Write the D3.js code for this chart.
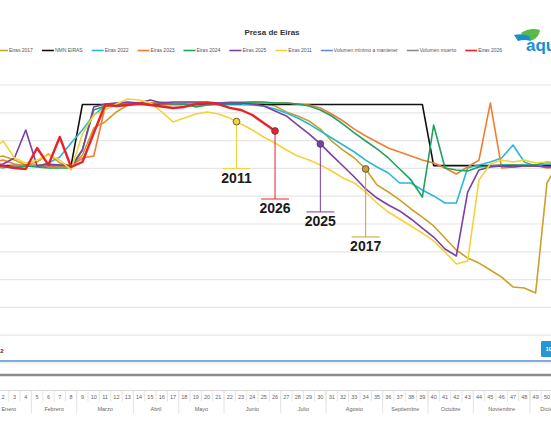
<!DOCTYPE html>
<html>
<head>
<meta charset="utf-8">
<script src="https://cdn.jsdelivr.net/npm/d3@7"></script>
<style>
body { margin: 0; background: #fff; overflow: hidden; }
svg { display: block; font-family: "Liberation Sans", Arial, sans-serif; }
</style>
</head>
<body>
<div id="chart"></div>
<script>
// Presa de Eiras - volumen semanal (hm3)

const weeks = d3.range(1, 53);
const month_names = ["Enero", "Febrero", "Marzo", "Abril", "Mayo", "Junio", "Julio",
    "Agosto", "Septiembre", "Octubre", "Noviembre", "Diciembre"];
const month_weeks = [4, 4, 5, 4, 4, 5, 4, 5, 4, 4, 5, 4];
const y_ticks = [2, 4, 6, 8, 10, 12, 14, 16, 18, 20, 22];

const eiras_2017 = [16.75, 16.89, 16.60, 16.25, 16.46, 17.04, 16.39, 16.17, 16.96, 18.91, 19.34, 20.06, 20.56,
    20.71, 20.71, 20.78, 20.71, 20.63, 20.63, 20.63, 20.71, 20.71, 20.71, 20.71, 20.63, 20.49, 20.06, 19.77,
    19.41, 18.83, 17.97, 17.32, 16.75, 15.96, 14.81, 14.30, 13.73, 13.08, 12.50, 11.86, 10.99, 10.13, 9.55,
    9.19, 8.69, 8.18, 7.47, 7.40, 7.04, 14.95, 16.39, 16.25];
const nmn_eiras = [16.2, 16.2, 16.2, 16.2, 16.2, 16.2, 16.2, 16.2, 20.6, 20.6, 20.6, 20.6, 20.6, 20.6, 20.6,
    20.6, 20.6, 20.6, 20.6, 20.6, 20.6, 20.6, 20.6, 20.6, 20.6, 20.6, 20.6, 20.6, 20.6, 20.6, 20.6, 20.6, 20.6,
    20.6, 20.6, 20.6, 20.6, 20.6, 20.6, 16.2, 16.2, 16.2, 16.2, 16.2, 16.2, 16.2, 16.2, 16.2, 16.2, 16.2, 16.2, 16.2];
const eiras_2022 = [16.17, 16.03, 16.25, 16.17, 16.17, 16.39, 16.82, 17.83, 18.76, 19.84, 20.49, 20.63, 20.71,
    20.71, 20.63, 20.71, 20.63, 20.63, 20.49, 20.56, 20.63, 20.63, 20.63, 20.56, 20.49, 20.27, 19.99, 19.63,
    19.19, 18.69, 18.19, 17.68, 17.18, 16.60, 16.10, 15.67, 14.95, 14.95, 14.45, 14.02, 13.51, 13.51, 16.03,
    16.25, 16.46, 16.75, 17.68, 16.46, 16.17, 16.32, 16.25, 16.25];
const eiras_2023 = [16.46, 16.60, 16.32, 16.17, 16.25, 16.17, 16.17, 16.17, 16.75, 16.89, 20.42, 20.71, 20.63,
    20.63, 20.71, 20.63, 20.63, 20.71, 20.71, 20.71, 20.71, 20.78, 20.78, 20.78, 20.71, 20.71, 20.71, 20.63,
    20.56, 20.35, 19.91, 19.41, 18.83, 18.33, 17.90, 17.47, 17.18, 16.89, 16.60, 16.39, 16.03, 15.60, 16.10,
    16.60, 20.71, 16.03, 16.10, 16.17, 16.25, 16.03, 16.10, 16.17];
const eiras_2024 = [16.10, 16.17, 16.03, 16.17, 16.10, 16.03, 16.03, 16.03, 17.32, 20.20, 20.49, 20.63, 20.63,
    20.63, 20.63, 20.71, 20.63, 20.63, 20.42, 20.56, 20.71, 20.71, 20.71, 20.78, 20.78, 20.71, 20.71, 20.63,
    20.49, 20.20, 19.77, 19.19, 18.55, 17.97, 17.40, 16.75, 15.96, 15.17, 13.94, 19.12, 16.03, 15.89, 15.81,
    16.10, 16.17, 16.25, 16.25, 16.25, 16.25, 16.46, 16.32, 16.25];
const eiras_2025 = [16.25, 16.32, 16.75, 18.76, 16.17, 16.32, 16.25, 16.17, 17.32, 20.42, 20.63, 20.71, 20.78,
    20.71, 20.92, 20.71, 20.78, 20.78, 20.78, 20.78, 20.71, 20.71, 20.71, 20.63, 20.49, 20.13, 19.77, 19.12,
    18.48, 17.76, 16.96, 16.17, 15.38, 14.52, 13.87, 13.37, 12.94, 12.36, 11.71, 11.06, 10.20, 9.70, 14.30,
    15.89, 16.10, 16.17, 16.10, 16.17, 16.17, 16.10, 16.17, 16.17];
const eiras_2011 = [17.32, 17.97, 16.75, 16.39, 16.60, 16.96, 16.60, 15.89, 18.48, 19.84, 20.20, 20.63, 20.99,
    20.92, 20.71, 20.06, 19.34, 19.63, 19.91, 20.06, 19.91, 19.63, 19.19, 18.76, 18.26, 17.83, 17.32, 16.89,
    16.60, 16.25, 15.81, 15.31, 14.95, 14.30, 13.51, 12.86, 12.36, 11.86, 11.35, 10.78, 9.99, 9.12, 9.34,
    15.17, 16.32, 16.60, 16.46, 16.60, 16.39, 16.46, 16.46, 16.46];
const vol_minimo = weeks.map(() => 2.14);
const vol_muerto = weeks.map(() => 1.14);
const eiras_2026 = [16.32, 16.17, 16.03, 15.96, 17.47, 16.25, 18.26, 16.10, 16.46, 18.55, 20.56, 20.49, 20.56,
    20.67, 20.56, 20.45, 20.35, 20.42, 20.63, 20.71, 20.63, 20.35, 20.20, 19.84, 19.27, 18.69];

const series_names = ["Eiras 2017", "NMN EIRAS", "Eiras 2022", "Eiras 2023", "Eiras 2024", "Eiras 2025",
    "Eiras 2011", "Volumen mínimo a mantener", "Volumen muerto", "Eiras 2026"];
const series_values = [eiras_2017, nmn_eiras, eiras_2022, eiras_2023, eiras_2024, eiras_2025,
    eiras_2011, vol_minimo, vol_muerto, eiras_2026];
const series_colors = ["#c9a12c", "#111111", "#2bb7d6", "#f07d32", "#1fa35c", "#7b3fa6",
    "#f3d33c", "#5b8fd2", "#8c8c8c", "#e8222a"];
const series_widths = [1.6, 1.6, 1.6, 1.6, 1.6, 1.6, 1.6, 1.6, 2.4, 2.4];

// callouts: which series, at which week, label text
const callout_series = ["Eiras 2011", "Eiras 2026", "Eiras 2025", "Eiras 2017"];
const callout_weeks = [22.6, 26, 30, 34];
const callout_labels = ["2011", "2026", "2025", "2017"];

class EirasChart {
    constructor(w, h, container) {
        this.w = w;
        this.h = h;
        this.container = container;
        this.series = series_names.map((n, i) => ({
            name: n, values: series_values[i], color: series_colors[i], width: series_widths[i]
        }));
        this.xScale = d3.scalePoint().domain(weeks).range([-13.9, 575.3]).padding(0.5);
        this.yScale = d3.scaleLinear().domain([0, 22]).range([390.8, 85]);

        this.setup_svg();
        this.draw_grid();
        this.draw_lines();
        this.draw_labels();
        this.draw_callouts();
        this.draw_x_axis();
        this.draw_legend();
        this.draw_logo();
    }

    setup_svg() {
        this.svg = this.container.append("svg")
            .attr("width", this.w)
            .attr("height", this.h);
        this.svg.append("text")
            .attr("x", 272)
            .attr("y", 35)
            .attr("text-anchor", "middle")
            .style("font-size", "8px")
            .style("font-weight", "bold")
            .style("fill", "#333")
            .text("Presa de Eiras");
    }

    x_at(week) {
        let step = this.xScale.step();
        return this.xScale(1) + (week - 1) * step;
    }

    draw_grid() {
        let yScale = this.yScale;
        this.svg.append("g")
            .selectAll("line")
            .data(y_ticks)
            .enter()
            .append("line")
            .attr("x1", -14)
            .attr("x2", this.w)
            .attr("y1", d => yScale(d))
            .attr("y2", d => yScale(d))
            .attr("stroke", "#e6e6e6")
            .attr("stroke-width", 1.2);
    }

    draw_lines() {
        let xScale = this.xScale;
        let yScale = this.yScale;
        let line = d3.line()
            .defined(d => d != null)
            .x((d, i) => xScale(weeks[i]))
            .y(d => yScale(d));
        this.svg.append("g")
            .selectAll("path")
            .data(this.series)
            .enter()
            .append("path")
            .attr("d", d => line(d.values))
            .attr("fill", "none")
            .attr("stroke", d => d.color)
            .attr("stroke-width", d => d.width)
            .attr("stroke-linejoin", "round");
    }

    draw_labels() {
        // data labels sitting on the "volumen minimo" line
        let y = this.yScale(vol_minimo[0]);
        let g = this.svg.append("g");
        let bx = this.xScale(50) - 6;
        g.append("rect")
            .attr("x", bx)
            .attr("y", y - 20)
            .attr("width", 30)
            .attr("height", 16)
            .attr("rx", 1.5)
            .attr("fill", "#2596d6");
        g.append("text")
            .attr("x", bx + 4.5)
            .attr("y", y - 10)
            .style("font-size", "6px")
            .style("font-weight", "bold")
            .style("fill", "#fff")
            .text("10,00");
        g.append("text")
            .attr("x", this.xScale(1) + 11.7)
            .attr("y", y - 8)
            .attr("text-anchor", "end")
            .style("font-size", "6px")
            .style("font-weight", "bold")
            .style("fill", "#333")
            .text("2,2");
    }

    draw_callouts() {
        let yScale = this.yScale;
        let self = this;
        let data = callout_labels.map((lab, i) => {
            let s = this.series.find(d => d.name === callout_series[i]);
            let wk = callout_weeks[i];
            let i0 = Math.floor(wk) - 1;
            let t = wk - Math.floor(wk);
            let v = t > 0 ? s.values[i0] * (1 - t) + s.values[i0 + 1] * t : s.values[i0];
            return { label: lab, x: self.x_at(wk), y: yScale(v), color: s.color, drop: i === 0 ? 47 : 68 };
        });
        let g = this.svg.append("g")
            .selectAll("g")
            .data(data)
            .enter()
            .append("g");
        g.append("line")
            .attr("x1", d => d.x).attr("x2", d => d.x)
            .attr("y1", d => d.y).attr("y2", d => d.y + d.drop)
            .attr("stroke", d => d.color)
            .attr("stroke-width", 1);
        g.append("line")
            .attr("x1", d => d.x - 14).attr("x2", d => d.x + 14)
            .attr("y1", d => d.y + d.drop).attr("y2", d => d.y + d.drop)
            .attr("stroke", d => d.color)
            .attr("stroke-width", 1);
        g.append("circle")
            .attr("cx", d => d.x)
            .attr("cy", d => d.y)
            .attr("r", 3.4)
            .attr("fill", d => d.color)
            .attr("stroke", "#444")
            .attr("stroke-width", 0.8);
        g.append("text")
            .attr("x", d => d.x)
            .attr("y", d => d.y + d.drop + 14)
            .attr("text-anchor", "middle")
            .style("font-size", "14px")
            .style("font-weight", "bold")
            .style("fill", "#1a1a1a")
            .text(d => d.label);
    }

    draw_x_axis() {
        let xScale = this.xScale;
        let step = xScale.step();
        let top = 390.5;
        let g = this.svg.append("g").style("fill", "#666");

        g.append("line")
            .attr("x1", -14).attr("x2", this.w)
            .attr("y1", top).attr("y2", top)
            .attr("stroke", "#d8d8d8");

        g.selectAll(".wk_tick")
            .data(weeks)
            .enter()
            .append("line")
            .attr("x1", d => xScale(d) - step / 2)
            .attr("x2", d => xScale(d) - step / 2)
            .attr("y1", top).attr("y2", top + 11)
            .attr("stroke", "#e4e4e4");

        g.selectAll(".wk_label")
            .data(weeks)
            .enter()
            .append("text")
            .attr("x", d => xScale(d))
            .attr("y", top + 8)
            .attr("text-anchor", "middle")
            .style("font-size", "5.5px")
            .text(d => d);

        let start = 1;
        let months = month_names.map((m, i) => {
            let o = { name: m, first: start, last: start + month_weeks[i] - 1 };
            start += month_weeks[i];
            return o;
        });

        g.selectAll(".mo_tick")
            .data(months)
            .enter()
            .append("line")
            .attr("x1", d => xScale(d.first) - step / 2)
            .attr("x2", d => xScale(d.first) - step / 2)
            .attr("y1", top).attr("y2", top + 23)
            .attr("stroke", "#e4e4e4");

        g.selectAll(".mo_label")
            .data(months)
            .enter()
            .append("text")
            .attr("x", d => (xScale(d.first) + xScale(d.last)) / 2)
            .attr("y", top + 20.5)
            .attr("text-anchor", "middle")
            .style("font-size", "5.5px")
            .text(d => d.name);
    }

    draw_legend() {
        let g = this.svg.append("g").attr("transform", "translate(0,50.5)");
        let x = -4;
        this.series.forEach(s => {
            let item = g.append("g").attr("transform", "translate(" + x + ",0)");
            item.append("line")
                .attr("x1", 0).attr("x2", 12)
                .attr("stroke", s.color)
                .attr("stroke-width", 1.6);
            let t = item.append("text")
                .attr("x", 13)
                .attr("y", 1.8)
                .style("font-size", "5px")
                .style("fill", "#555")
                .text(s.name);
            x += 13 + t.node().getComputedTextLength() + 9;
        });
    }

    draw_logo() {
        let g = this.svg.append("g");
        g.append("path")
            .attr("d", "M521,33 Q530,27 540,30 Q539,37 533,40 Q527,41 524,38 Z")
            .attr("fill", "#5bb84a");
        g.append("path")
            .attr("d", "M514,35 Q522,33 529,36 L531,41 Q524,39 518,41 Z")
            .attr("fill", "#1a8fc9");
        g.append("text")
            .attr("x", 526)
            .attr("y", 51)
            .style("font-size", "17px")
            .style("font-weight", "bold")
            .style("fill", "#1b8fcf")
            .text("aqualia");
    }
}

let div = d3.select("#chart");
let eiras_chart = new EirasChart(551, 431, div);
</script>
</body>
</html>
